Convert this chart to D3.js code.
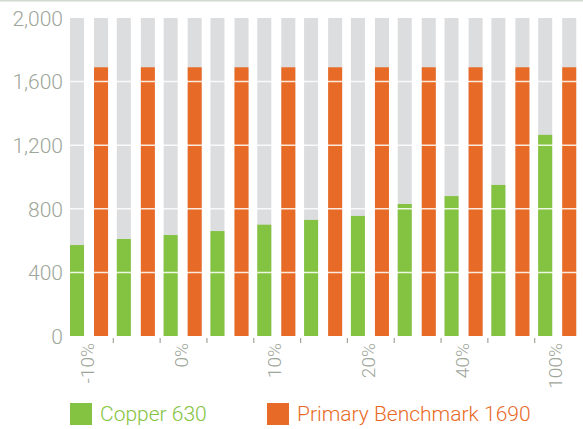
<!DOCTYPE html>
<html><head><meta charset="utf-8">
<script src="https://cdn.jsdelivr.net/npm/d3@7"></script>
<style>body{margin:0;background:#fff}svg{display:block}</style>
</head><body>
<svg id="c" width="583" height="429"></svg>
<script>
const categories = ["-10%","-5%","0%","5%","10%","15%","20%","30%","40%","60%","100%"];
const shownLabels = ["-10%","0%","10%","20%","40%","100%"];
const copper = [572, 610, 635, 660, 700, 730, 755, 830, 880, 950, 1265];
const benchmark = [1690,1690,1690,1690,1690,1690,1690,1690,1690,1690,1690];
const yTicks = [0, 400, 800, 1200, 1600, 2000];
const seriesNames = ["Copper 630", "Primary Benchmark 1690"];

(function(){
const green = "#84c341", orange = "#e86a27", grey = "#dcdddf", axisCol = "#9ea69a";
const font = "Roboto";
const svg = d3.select("#c");
const W = 583, H = 429;
const mLeft = 67, mRight = 582, mTop = 18, mBottom = 336;

const x = d3.scaleBand().domain(categories).range([mLeft, mRight]);
const bw = x.bandwidth();
const sub = d3.scaleBand().domain([0,1]).range([bw*0.064, bw*0.877]).paddingInner(0.4167).paddingOuter(0);
const y = d3.scaleLinear().domain([0, 2000]).range([mBottom, mTop]);

svg.append("line").attr("x1",0).attr("x2",W).attr("y1",0.5).attr("y2",0.5).attr("stroke","#d3dbd1").attr("stroke-width",2);

const g = svg.append("g");
const data = [];
categories.forEach((c,i)=>{ data.push({c, k:0, v:copper[i]}); data.push({c, k:1, v:benchmark[i]}); });
g.selectAll("rect.bg").data(data).join("rect").attr("class","bg")
  .attr("x", d=>x(d.c)+sub(d.k)).attr("width", sub.bandwidth())
  .attr("y", y(2000)).attr("height", y(0)-y(2000)).attr("fill", grey);
g.selectAll("rect.v").data(data).join("rect").attr("class","v")
  .attr("x", d=>x(d.c)+sub(d.k)).attr("width", sub.bandwidth())
  .attr("y", d=>y(d.v)).attr("height", d=>y(0)-y(d.v)).attr("fill", d=>d.k?orange:green);

g.selectAll("line.grid").data(yTicks.filter(t=>t>0 && t<2000)).join("line").attr("class","grid")
  .attr("x1", mLeft).attr("x2", W).attr("y1", d=>y(d)).attr("y2", d=>y(d))
  .attr("stroke","#fff").attr("stroke-opacity",0.85).attr("stroke-width",1.5);

const yAxis = d3.axisLeft(y).tickValues(yTicks).tickSize(0).tickPadding(0).tickFormat(d3.format(","));
const ya = svg.append("g").attr("transform",`translate(63,0)`).call(yAxis);
ya.select(".domain").remove();
ya.selectAll("text").attr("font-family",font).attr("font-weight",300).attr("font-size",21).attr("fill",axisCol).attr("dy","0.35em");

const xAxis = d3.axisBottom(x).tickSize(0).tickFormat(d=>shownLabels.includes(d)?d:"");
const xa = svg.append("g").attr("transform",`translate(0,${mBottom})`).call(xAxis);
xa.select(".domain").remove();
const gapC = sub(0)+sub.bandwidth()+(sub(1)-sub(0)-sub.bandwidth())/2;
xa.selectAll(".tick").attr("transform", d=>`translate(${x(d)+gapC-1.5},0)`);
xa.selectAll("text").attr("font-family",font).attr("font-weight",300).attr("font-size",19).attr("fill",axisCol)
  .attr("text-anchor","end").attr("transform","rotate(-90)").attr("x",-7).attr("y",0).attr("dy","0.35em");
xa.selectAll("line.bt").data(categories.slice(1)).join("line").attr("class","bt")
  .attr("x1", d=>x(d)-0.5).attr("x2", d=>x(d)-0.5).attr("y1",2).attr("y2",7).attr("stroke",axisCol).attr("stroke-width",1.2);

const lg = svg.append("g");
const legend = [{n:seriesNames[0], c:green, x:70},{n:seriesNames[1], c:orange, x:267}];
lg.selectAll("rect").data(legend).join("rect").attr("x",d=>d.x).attr("y",403).attr("width",22).attr("height",22).attr("fill",d=>d.c);
lg.selectAll("text").data(legend).join("text").attr("x",d=>d.x+30).attr("y",414).attr("dy","0.35em")
  .attr("font-family",font).attr("font-weight",300).attr("font-size",21).attr("fill",d=>d.c).text(d=>d.n);
})();
</script>
</body></html>
